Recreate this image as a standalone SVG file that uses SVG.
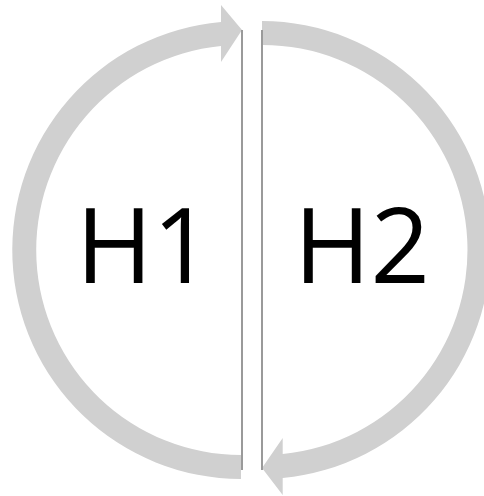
<svg xmlns="http://www.w3.org/2000/svg" width="484" height="496" viewBox="0 0 484 496">
  <style>
    .arc { fill: #d0d0d0; stroke: none; }
    .div { stroke: #9a9a9a; stroke-width: 2; fill: none; }
    .lbl { font-family: "Open Sans", "Liberation Sans", sans-serif; font-size: 104px; fill: #000; text-anchor: middle; }
  </style>
  <rect width="484" height="496" fill="#fff"/>
  <g id="h1">
    <path class="arc" d="M241,479 A229,229 0 0 1 221,21.9 L221,5 L242,30 L221,62 L221,46 A205,205 0 0 0 241,455 Z"/>
    <text class="lbl" x="144" y="283">H1</text>
  </g>
  <g id="h2">
    <path class="arc" d="M262,21 A229,229 0 0 1 282.7,478 L282.7,495 L262,468 L282.7,438 L282.7,454 A205,205 0 0 0 262,45 Z"/>
    <text class="lbl" x="362" y="283">H2</text>
  </g>
  <g id="connectors">
    <line class="div" x1="242" y1="30" x2="242" y2="470"/>
    <line class="div" x1="262" y1="30" x2="262" y2="470"/>
  </g>
</svg>
